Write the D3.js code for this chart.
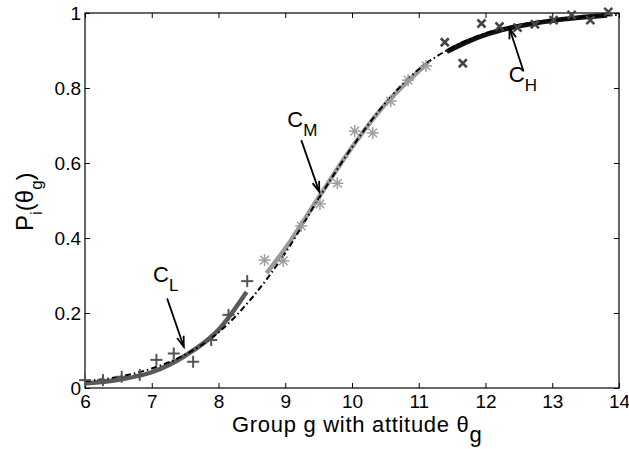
<!DOCTYPE html>
<html>
<head>
<meta charset="utf-8">
<script src="https://cdn.jsdelivr.net/npm/d3@7"></script>
<style>
  body { margin: 0; background: #fff; }
  svg { font-family: "Liberation Sans", Arial, Helvetica, sans-serif; }
</style>
</head>
<body>
<div id="chart"></div>
<script>
// observed points, three groups
const lowX = [6.0, 6.27, 6.55, 6.82, 7.07, 7.33, 7.62, 7.89, 8.15, 8.43];
const lowY = [0.021, 0.021, 0.030, 0.035, 0.075, 0.092, 0.070, 0.128, 0.195, 0.285];
const midX = [8.69, 8.97, 9.24, 9.52, 9.78, 10.04, 10.31, 10.58, 10.84, 11.11];
const midY = [0.341, 0.339, 0.432, 0.491, 0.546, 0.685, 0.680, 0.765, 0.821, 0.859];
const highX = [11.39, 11.66, 11.94, 12.21, 12.48, 12.74, 13.02, 13.29, 13.57, 13.84];
const highY = [0.922, 0.866, 0.972, 0.964, 0.961, 0.970, 0.981, 0.995, 0.981, 1.003];

// fitted curves
const fitX = [6, 6.5, 7, 7.5, 8, 8.5, 9, 9.5, 10, 10.5, 11, 11.5, 12, 12.5, 13, 13.5, 14];
const fitY = [0.018, 0.030, 0.052, 0.089, 0.148, 0.240, 0.360, 0.505, 0.642, 0.760, 0.850, 0.908, 0.946, 0.968, 0.982, 0.990, 0.995];
const cLX = [6, 6.5, 7, 7.5, 8, 8.42];
const cLY = [0.012, 0.022, 0.042, 0.086, 0.155, 0.256];
const cMX = [8.72, 9, 9.5, 10, 10.5, 11, 11.13];
const cMY = [0.306, 0.372, 0.508, 0.642, 0.757, 0.845, 0.866];
const cHX = [11.42, 11.75, 12, 12.34, 12.75, 13.25, 13.82];
const cHY = [0.897, 0.925, 0.942, 0.959, 0.973, 0.985, 0.994];

const xTicks = [6, 7, 8, 9, 10, 11, 12, 13, 14];
const yTicks = [0, 0.2, 0.4, 0.6, 0.8, 1];

const margin = { top: 13, right: 10, bottom: 61, left: 85 };
const width = 629 - margin.left - margin.right;
const height = 449 - margin.top - margin.bottom;

const svg = d3.select("#chart")
    .append("svg")
    .attr("width", 629)
    .attr("height", 449);

const g = svg.append("g")
    .attr("transform", `translate(${margin.left},${margin.top})`);

const x = d3.scaleLinear().domain([6, 14]).range([0, width]);
const y = d3.scaleLinear().domain([0, 1]).range([height, 0]);

// axes, matlab style: ticks pointing inward, mirrored on top/right
g.append("g")
    .attr("transform", `translate(0,${height})`)
    .call(d3.axisBottom(x).tickValues(xTicks).tickSizeInner(-5).tickSizeOuter(0).tickPadding(7));
g.append("g")
    .call(d3.axisLeft(y).tickValues(yTicks).tickSizeInner(-5).tickSizeOuter(0).tickPadding(4).tickFormat(d => d));
g.append("g")
    .call(d3.axisTop(x).tickValues(xTicks).tickSizeInner(-5).tickSizeOuter(0).tickFormat(""));
g.append("g")
    .attr("transform", `translate(${width},0)`)
    .call(d3.axisRight(y).tickValues(yTicks).tickSizeInner(-5).tickSizeOuter(0).tickFormat(""));

g.selectAll(".domain").remove();
g.selectAll(".tick line").attr("stroke", "#000");
g.selectAll(".tick text")
    .style("font-size", "19px")
    .style("font-family", "'Liberation Sans', Arial, sans-serif")
    .attr("fill", "#000");

g.append("rect")
    .attr("width", width)
    .attr("height", height)
    .attr("fill", "none")
    .attr("stroke", "#000")
    .attr("stroke-width", 1.2);

const line = d3.line()
    .x(d => x(d[0]))
    .y(d => y(d[1]))
    .curve(d3.curveMonotoneX);

const zip = (xs, ys) => xs.map((v, i) => [v, ys[i]]);

// segment fits
g.append("path").datum(zip(cLX, cLY))
    .attr("d", line).attr("fill", "none")
    .attr("stroke", "#5a5a5a").attr("stroke-width", 4.5);
g.append("path").datum(zip(cMX, cMY))
    .attr("d", line).attr("fill", "none")
    .attr("stroke", "#9a9a9a").attr("stroke-width", 4.5);
g.append("path").datum(zip(cHX, cHY))
    .attr("d", line).attr("fill", "none")
    .attr("stroke", "#111").attr("stroke-width", 5);

// overall fit, dash-dot
g.append("path").datum(zip(fitX, fitY))
    .attr("d", line).attr("fill", "none")
    .attr("stroke", "#000").attr("stroke-width", 2)
    .attr("stroke-dasharray", "6,3,1.5,3");

// markers
const plus = g.append("g").attr("stroke", "#555").attr("stroke-width", 2);
zip(lowX, lowY).forEach(d => {
    const cx = x(d[0]), cy = y(d[1]), s = 6;
    plus.append("line").attr("x1", cx - s).attr("x2", cx + s).attr("y1", cy).attr("y2", cy);
    plus.append("line").attr("x1", cx).attr("x2", cx).attr("y1", cy - s).attr("y2", cy + s);
});

const star = g.append("g").attr("stroke", "#9d9d9d").attr("stroke-width", 1.5);
zip(midX, midY).forEach(d => {
    const cx = x(d[0]), cy = y(d[1]), s = 6, t = 4.3;
    star.append("line").attr("x1", cx - s).attr("x2", cx + s).attr("y1", cy).attr("y2", cy);
    star.append("line").attr("x1", cx).attr("x2", cx).attr("y1", cy - s).attr("y2", cy + s);
    star.append("line").attr("x1", cx - t).attr("x2", cx + t).attr("y1", cy - t).attr("y2", cy + t);
    star.append("line").attr("x1", cx - t).attr("x2", cx + t).attr("y1", cy + t).attr("y2", cy - t);
});

const cross = g.append("g").attr("stroke", "#444").attr("stroke-width", 2.5);
zip(highX, highY).forEach(d => {
    const cx = x(d[0]), cy = y(d[1]), s = 4;
    cross.append("line").attr("x1", cx - s).attr("x2", cx + s).attr("y1", cy - s).attr("y2", cy + s);
    cross.append("line").attr("x1", cx - s).attr("x2", cx + s).attr("y1", cy + s).attr("y2", cy - s);
});

// annotations: label + arrow (start and tip in data units)
const notes = [
    { sub: "L", lx: 7.02, ly: 0.282, from: [7.23, 0.239], to: [7.48, 0.110] },
    { sub: "M", lx: 9.03, ly: 0.696, from: [9.24, 0.661], to: [9.51, 0.523] },
    { sub: "H", lx: 12.35, ly: 0.817, from: [12.57, 0.844], to: [12.36, 0.959] }
];

notes.forEach(n => {
    const t = g.append("text")
        .attr("x", x(n.lx))
        .attr("y", y(n.ly))
        .attr("font-size", 22)
        .attr("fill", "#000");
    t.append("tspan").text("C");
    t.append("tspan").attr("font-size", 17).attr("dy", 9).text(n.sub);

    const x1 = x(n.from[0]), y1 = y(n.from[1]);
    const x2 = x(n.to[0]), y2 = y(n.to[1]);
    g.append("line")
        .attr("x1", x1).attr("y1", y1).attr("x2", x2).attr("y2", y2)
        .attr("stroke", "#000").attr("stroke-width", 1.8);
    const ang = Math.atan2(y2 - y1, x2 - x1);
    const len = 11, spread = 0.32;
    const head = [
        [x2 - len * Math.cos(ang - spread), y2 - len * Math.sin(ang - spread)],
        [x2, y2],
        [x2 - len * Math.cos(ang + spread), y2 - len * Math.sin(ang + spread)]
    ];
    g.append("path")
        .attr("d", d3.line()(head))
        .attr("fill", "none")
        .attr("stroke", "#000")
        .attr("stroke-width", 1.8);
});

// axis labels
const xl = svg.append("text")
    .attr("x", 232)
    .attr("y", 432)
    .attr("font-size", 22)
    .attr("letter-spacing", 0.7)
    .attr("fill", "#000");
xl.append("tspan").text("Group g with attitude θ");
xl.append("tspan").attr("dy", 10).text("g");

const yl = svg.append("text")
    .attr("transform", "translate(33,231) rotate(-90)")
    .attr("font-size", 24)
    .attr("fill", "#000");
yl.append("tspan").text("P");
yl.append("tspan").attr("font-size", 17).attr("dy", 9).text("i");
yl.append("tspan").attr("dy", -9).text("(θ");
yl.append("tspan").attr("font-size", 17).attr("dy", 9).text("g");
yl.append("tspan").attr("dy", -9).text(")");
</script>
</body>
</html>
